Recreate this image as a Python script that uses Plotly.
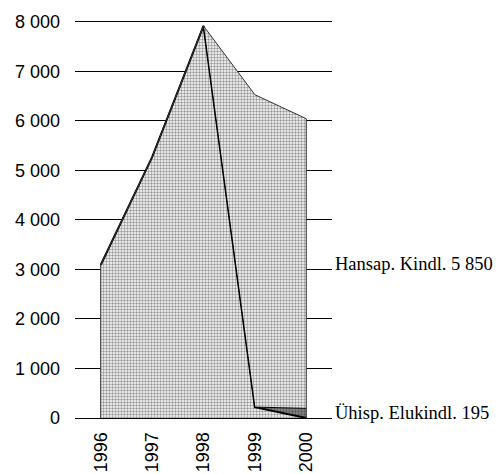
import plotly.graph_objects as go

YEARS = [1996, 1997, 1998, 1999, 2000]
OTHER = [3090, 5270, 7920, 220, 0]          # bottom series (thick black outline)
UHISP = [0, 0, 0, 0, 195]                   # Ühisp. Elukindl.
HANSAP = [0, 0, 0, 6310, 5850]              # Hansap. Kindl.

Y_TICKS = [0, 1000, 2000, 3000, 4000, 5000, 6000, 7000, 8000]
Y_TICK_TEXT = ["0", "1 000", "2 000", "3 000", "4 000", "5 000", "6 000", "7 000", "8 000"]
X_TICK_TEXT = ["1996", "1997", "1998", "1999", "2000"]

LABEL_HANSAP = "Hansap. Kindl. 5 850"
LABEL_UHISP = "Ühisp. Elukindl. 195"

light = dict(shape=".", bgcolor="white", fgcolor="#333333", size=3, solidity=0.5, fillmode="overlay")
dark = dict(shape=".", bgcolor="#888888", fgcolor="#222222", size=3, solidity=0.45, fillmode="overlay")

fig = go.Figure()
fig.add_trace(go.Scatter(x=YEARS, y=OTHER, stackgroup="s", mode="lines",
                         line=dict(color="black", width=2), fillpattern=light,
                         fillcolor="white", name="muu", hoverinfo="skip"))
fig.add_trace(go.Scatter(x=YEARS, y=UHISP, stackgroup="s", mode="lines",
                         line=dict(color="black", width=1), fillpattern=dark,
                         fillcolor="#888888", name="Ühisp. Elukindl.", hoverinfo="skip"))
fig.add_trace(go.Scatter(x=YEARS, y=HANSAP, stackgroup="s", mode="lines",
                         line=dict(color="#333333", width=1), fillpattern=light,
                         fillcolor="white", name="Hansap. Kindl.", hoverinfo="skip"))

totals = [a + b + c for a, b, c in zip(OTHER, UHISP, HANSAP)]
for i in (0, -1):
    fig.add_trace(go.Scatter(x=[YEARS[i], YEARS[i]], y=[0, totals[i]], mode="lines",
                             line=dict(color="#333333", width=1), hoverinfo="skip",
                             showlegend=False))

fig.add_annotation(x=YEARS[-1] + 0.5, y=OTHER[-1] + UHISP[-1] + HANSAP[-1] / 2,
                   xref="x", yref="y", text=LABEL_HANSAP, showarrow=False,
                   xanchor="left", yanchor="middle", xshift=1,
                   font=dict(family="Liberation Serif", size=18.5, color="black"))
fig.add_annotation(x=YEARS[-1] + 0.5, y=OTHER[-1] + UHISP[-1] / 2,
                   xref="x", yref="y", text=LABEL_UHISP, showarrow=False,
                   xanchor="left", yanchor="middle", xshift=1,
                   font=dict(family="Liberation Serif", size=18.5, color="black"))

fig.update_layout(
    width=499, height=474,
    margin=dict(l=75, r=167, t=17, b=56),
    paper_bgcolor="white", plot_bgcolor="white",
    showlegend=False,
    font=dict(family="Liberation Sans", size=18, color="black"),
    xaxis=dict(range=[1995.5, 2000.5], tickmode="array", tickvals=YEARS,
               ticktext=X_TICK_TEXT, tickangle=-90, showgrid=False,
               showline=True, linecolor="black", linewidth=1, zeroline=False,
               ticks="", ticklabelstandoff=6, fixedrange=True, automargin=False),
    yaxis=dict(range=[0, 8100], tickmode="array", tickvals=Y_TICKS,
               ticktext=Y_TICK_TEXT, showgrid=True, gridcolor="black", gridwidth=1,
               zeroline=False, showline=False, ticks="", ticklabelstandoff=14,
               fixedrange=True, automargin=False),
)

fig.write_html("out.html", config={"displayModeBar": False},
               post_script="document.body.style.margin='0';")
